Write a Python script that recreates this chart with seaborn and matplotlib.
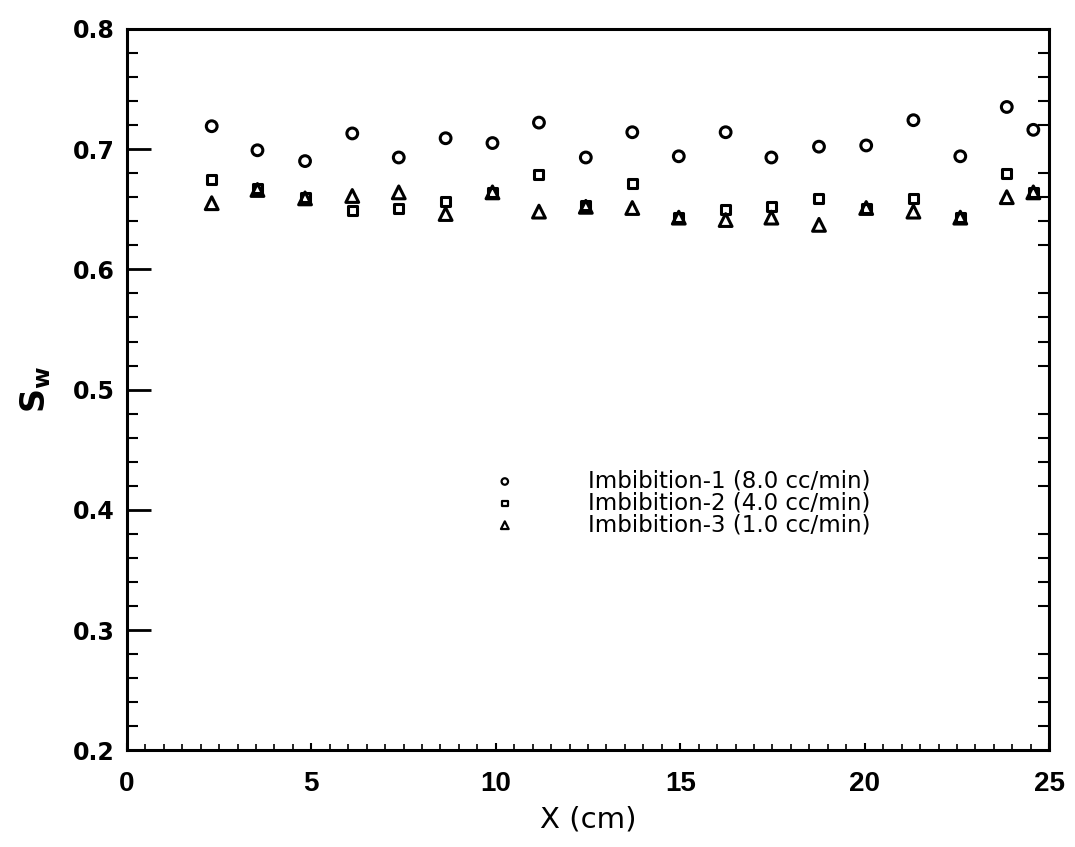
import matplotlib
matplotlib.use("Agg")
import matplotlib.pyplot as plt
import seaborn as sns
import pandas as pd
from matplotlib.ticker import MultipleLocator, FormatStrFormatter

x_cm = [2.30, 3.54, 4.83, 6.11, 7.37, 8.64, 9.91, 11.17, 12.44, 13.70,
        14.96, 16.23, 17.47, 18.76, 20.04, 21.32, 22.59, 23.85, 24.57]
sw_imb1 = [0.719, 0.699, 0.690, 0.713, 0.693, 0.709, 0.705, 0.722, 0.693, 0.714,
           0.694, 0.714, 0.693, 0.702, 0.703, 0.724, 0.694, 0.735, 0.716]
sw_imb2 = [0.675, 0.667, 0.660, 0.649, 0.651, 0.656, 0.664, 0.679, 0.653, 0.671,
           0.643, 0.650, 0.652, 0.659, 0.651, 0.659, 0.643, 0.680, 0.664]
sw_imb3 = [0.655, 0.666, 0.659, 0.661, 0.664, 0.646, 0.664, 0.648, 0.652, 0.651,
           0.643, 0.641, 0.643, 0.637, 0.651, 0.648, 0.643, 0.660, 0.664]
labels = ["Imbibition-1 (8.0 cc/min)", "Imbibition-2 (4.0 cc/min)",
          "Imbibition-3 (1.0 cc/min)"]
markers = ["o", "s", "^"]

sns.set_style("white")
plt.rcParams["font.family"] = ["DejaVu Sans"]
plt.rcParams["mathtext.fontset"] = "dejavusans"
plt.rcParams["text.color"] = "black"
plt.rcParams["axes.labelcolor"] = "black"
plt.rcParams["xtick.color"] = "black"
plt.rcParams["ytick.color"] = "black"

fig = plt.figure(figsize=(10.75, 8.47), dpi=100)
ax = fig.add_axes([0.118, 0.114, 0.858, 0.852])

series = [sw_imb1, sw_imb2, sw_imb3]
sizes = [60, 42, 85]
for vals, lab, m, s in zip(series, labels, markers, sizes):
    df = pd.DataFrame({"x": x_cm, "sw": vals})
    sns.scatterplot(data=df, x="x", y="sw", marker=m, s=s, ax=ax,
                    facecolor="none", edgecolor="black", linewidth=2.2,
                    label=lab, zorder=3)

ax.set_xlim(0, 25)
ax.set_ylim(0.2, 0.8)
ax.yaxis.set_major_locator(MultipleLocator(0.1))
ax.yaxis.set_minor_locator(MultipleLocator(0.02))
ax.yaxis.set_major_formatter(FormatStrFormatter("%.1f"))
ax.xaxis.set_major_locator(MultipleLocator(5))
ax.xaxis.set_minor_locator(MultipleLocator(0.5))
ax.tick_params(axis="y", which="major", direction="in", length=17, width=2,
               pad=9, left=True, right=False, labelsize=17)
ax.tick_params(axis="y", which="minor", direction="in", length=8, width=1.5,
               left=True, right=True)
ax.tick_params(axis="x", which="major", direction="in", length=5, width=1.5,
               pad=15, bottom=True, top=False, labelsize=20,
               labelfontfamily="Liberation Sans")
ax.tick_params(axis="x", which="minor", direction="in", length=4, width=1.2,
               bottom=True, top=False)
for t in ax.get_yticklabels() + ax.get_xticklabels():
    t.set_fontweight("bold")

for sp in ax.spines.values():
    sp.set_color("black")
    sp.set_linewidth(2.2)

ax.set_xlabel("X (cm)", fontsize=21, labelpad=6)
ax.set_ylabel("$\\mathbf{S_w}$", fontsize=24, labelpad=14)

leg = ax.legend(loc="upper left", bbox_to_anchor=(0.375, 0.402), frameon=False,
                fontsize=16.5, markerscale=0.6, handletextpad=2.63,
                labelspacing=-0.05, borderaxespad=0)
for h in leg.legend_handles:
    h.set_linewidth(1.6)
for t in leg.get_texts():
    t.set_color("black")

fig.savefig("out.png", dpi=100)
